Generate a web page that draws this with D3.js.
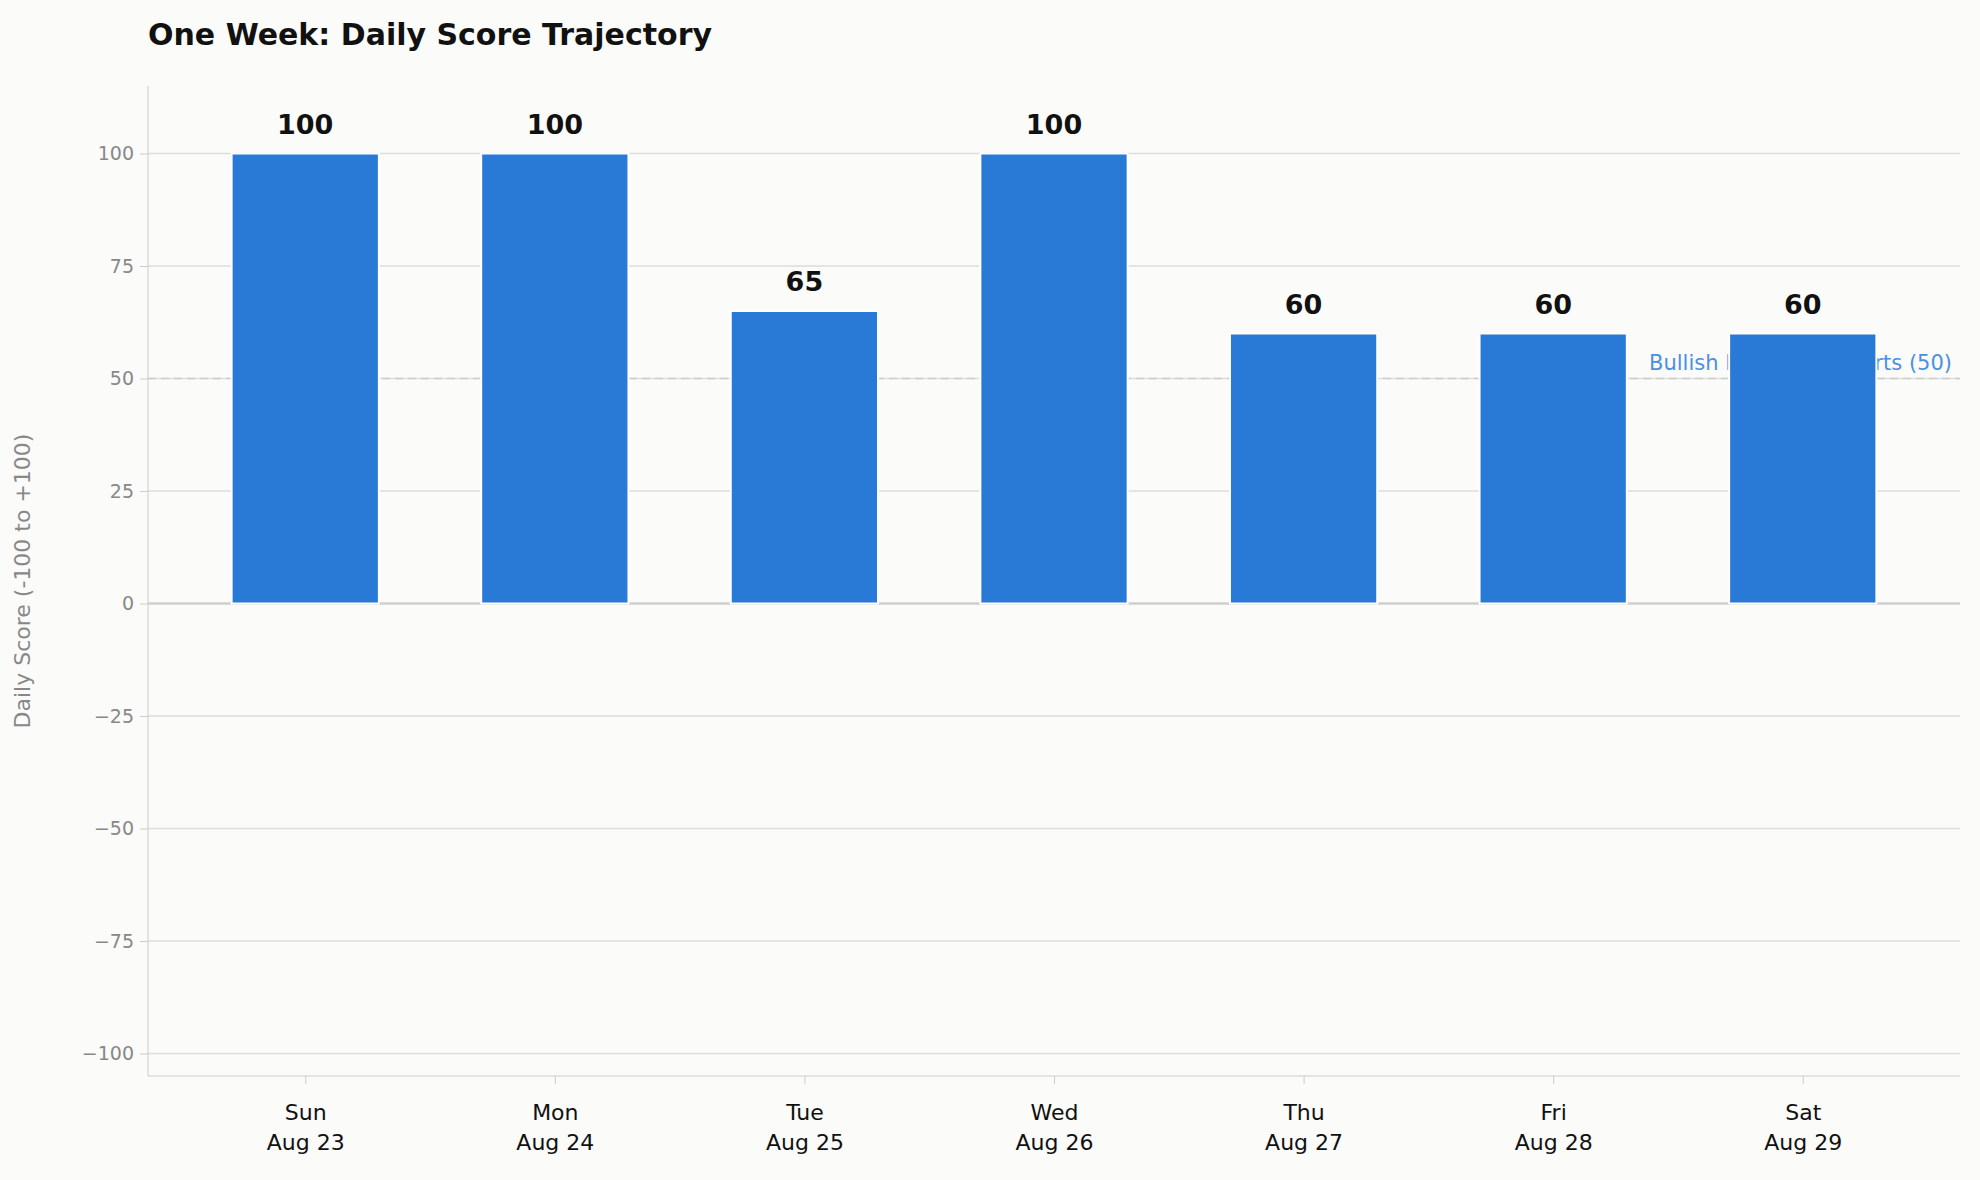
<!DOCTYPE html>
<html><head><meta charset="utf-8">
<script src="https://cdn.jsdelivr.net/npm/d3@7"></script>
<style>body{margin:0;background:#fbfbf9;}svg{display:block;font-family:"DejaVu Sans",sans-serif;} svg text{font-family:"DejaVu Sans",sans-serif;}</style>
</head><body>
<script>
const days = ["Sun","Mon","Tue","Wed","Thu","Fri","Sat"];
const dates = ["Aug 23","Aug 24","Aug 25","Aug 26","Aug 27","Aug 28","Aug 29"];
const scores = [100,100,65,100,60,60,60];
const yTicks = [-100,-75,-50,-25,0,25,50,75,100];
const refValue = 50;
const refLabel = "Bullish Expansion Starts (50)";

const W=1980,H=1180,L=148,R=1960,T=86,B=1076;
const F="DejaVu Sans";
const svg=d3.select("body").append("svg").attr("width",W).attr("height",H);
svg.append("rect").attr("width",W).attr("height",H).attr("fill","#fbfbf9");
const x=d3.scaleLinear().domain([-0.63,6.63]).range([L,R]);
const y=d3.scaleLinear().domain([-105,115]).range([B,T]);

svg.append("g").selectAll("line").data(yTicks).join("line")
 .attr("x1",L).attr("x2",R).attr("y1",d=>y(d)).attr("y2",d=>y(d))
 .attr("stroke",d=>d===0?"#cfcfcf":"#dddddd").attr("stroke-width",d=>d===0?2.5:1.5);
svg.append("line").attr("x1",L).attr("x2",R).attr("y1",y(refValue)).attr("y2",y(refValue))
 .attr("stroke","#cccccc").attr("stroke-width",1.5).attr("stroke-dasharray","8,5");
svg.append("text").attr("x",1952).attr("y",y(refValue)-9).attr("text-anchor","end")
 .attr("font-family",F).attr("font-size",21).attr("fill","#4a90e2").text(refLabel);

const bw=0.59;
svg.append("g").selectAll("rect").data(scores).join("rect")
 .attr("x",(d,i)=>x(i-bw/2)).attr("width",x(bw)-x(0))
 .attr("y",d=>y(Math.max(0,d))).attr("height",d=>Math.abs(y(d)-y(0)))
 .attr("fill","#2979d6").attr("stroke","#ffffff").attr("stroke-width",2);
svg.append("g").selectAll("text").data(scores).join("text")
 .attr("x",(d,i)=>x(i)).attr("y",d=>y(d)-20).attr("text-anchor","middle").attr("font-family",F)
 .attr("font-size",27).attr("font-weight","bold").attr("fill","#111").text(d=>d);

const ya=svg.append("g").attr("transform",`translate(${L},0)`)
 .call(d3.axisLeft(y).tickValues(yTicks).tickSize(8).tickPadding(6).tickFormat(d=>d<0?"\u2212"+(-d):d));
ya.attr("font-family",F);
ya.select(".domain").attr("stroke","#cccccc").attr("d",`M0,${T}V${B}`);
ya.selectAll(".tick line").attr("stroke","#cccccc");
ya.selectAll("text").attr("font-size",19).attr("fill","#888");
const xa=svg.append("g").attr("transform",`translate(0,${B})`)
 .call(d3.axisBottom(x).tickValues(d3.range(days.length)).tickSize(8).tickFormat(""));
xa.attr("font-family",F);
xa.select(".domain").attr("stroke","#cccccc").attr("d",`M${L},0H${R}`);
xa.selectAll(".tick line").attr("stroke","#cccccc");
xa.selectAll(".tick").each(function(d){
  const t=d3.select(this).append("text").attr("fill","#111").attr("font-size",22).attr("text-anchor","middle");
  t.append("tspan").attr("x",0).attr("y",44).text(days[d]);
  t.append("tspan").attr("x",0).attr("y",74).text(dates[d]);
});
svg.append("text").attr("transform",`translate(30,${(T+B)/2}) rotate(-90)`).attr("text-anchor","middle")
 .attr("font-family",F).attr("font-size",22).attr("fill","#888").text("Daily Score (-100 to +100)");
svg.append("text").attr("x",L).attr("y",45).attr("font-family",F).attr("font-size",30).attr("font-weight","bold").attr("fill","#111")
 .text("One Week: Daily Score Trajectory");
</script></body></html>
